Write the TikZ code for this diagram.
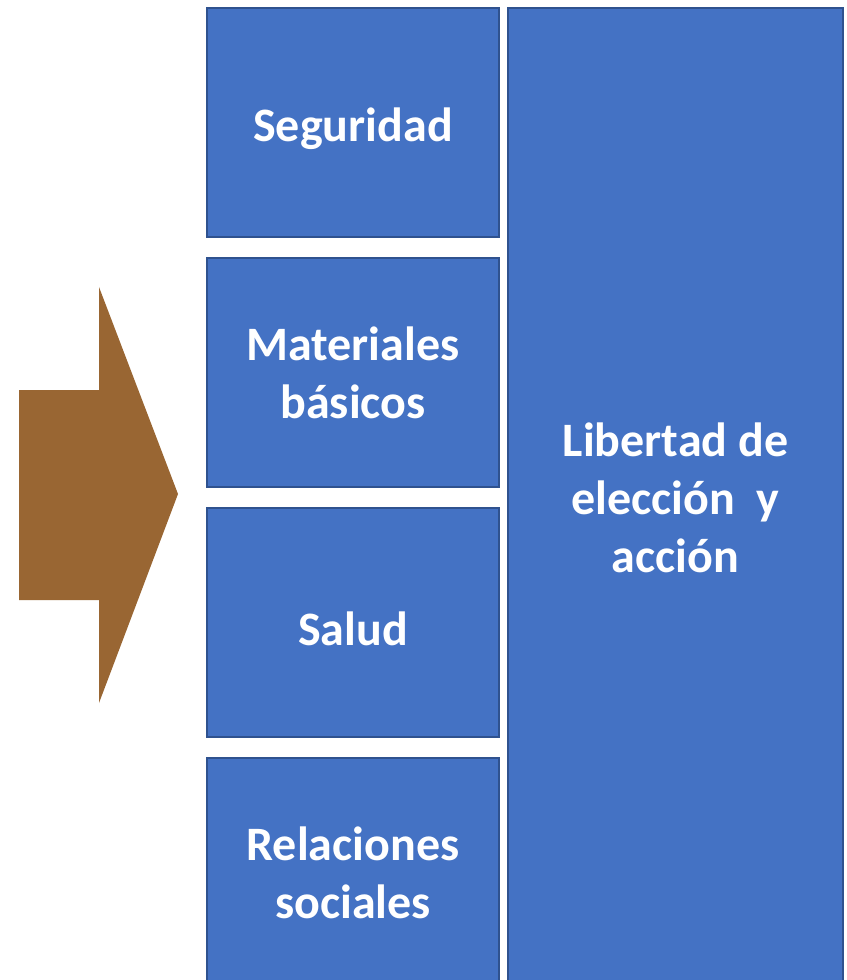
\documentclass[tikz,border=0pt]{standalone}
\usepackage{fontspec}
\setmainfont{Carlito}
\usepackage{tikz}
\definecolor{boxblue}{HTML}{4472C4}
\definecolor{edgeblue}{HTML}{2F528F}
\definecolor{arrowbrown}{HTML}{996633}

\begin{document}
\begin{tikzpicture}[x=0.75pt,y=-0.75pt,
    block/.style={draw=edgeblue,fill=boxblue,line width=1.5pt,text=white,
      font=\fontsize{36}{43.5}\selectfont\bfseries,align=center,inner sep=0pt,
      execute at begin node=\rule{0pt}{35pt},
      minimum width=219pt,minimum height=171.75pt}]
  \useasboundingbox (0,0) rectangle (846,980);
  \clip (0,0) rectangle (846,980);
  % arrow on the left
  \fill[arrowbrown] (19,390) -- (99,390) -- (99,287) -- (178,494)
    -- (99,703) -- (99,600) -- (19,600) -- cycle;
  % left column
  \node[block] (seg) at (353,122.5) {Seguridad};
  \node[block] (mat) at (353,372.5) {Materiales\\básicos};
  \node[block] (sal) at (353,622.5) {Salud};
  \node[block] (rel) at (353,872.5) {Relaciones\\sociales};
  % right column
  \node[block,minimum width=251.25pt,minimum height=734.25pt] (lib)
    at (675.5,497.5) {Libertad de\\elección\ \ y\\acción};
\end{tikzpicture}
\end{document}
